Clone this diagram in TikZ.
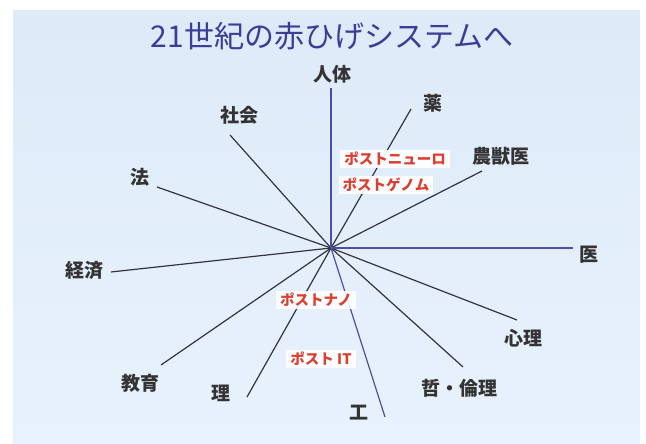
\documentclass[tikz,border=0pt]{standalone}
\usepackage{fontspec}
\setmainfont{Noto Sans CJK JP}
\usetikzlibrary{positioning}
\definecolor{panelblue}{RGB}{222,234,248}
\definecolor{panellight}{RGB}{232,242,253}
\definecolor{titleblue}{RGB}{58,62,150}
\definecolor{axisblue}{RGB}{76,80,165}
\definecolor{spokegray}{RGB}{50,52,60}
\definecolor{postred}{RGB}{220,62,48}
\tikzset{
  field/.style={font=\fontsize{19}{19}\selectfont\bfseries, text=black!80, inner sep=1pt},
  post/.style={font=\fontsize{14.5}{14.5}\selectfont\bfseries, text=postred, fill=white, fill opacity=0.9, text opacity=1, inner xsep=4pt, inner ysep=2.5pt},
  spoke/.style={spokegray, line width=1.2pt},
  axis/.style={axisblue, line width=1.2pt}
}

\begin{document}
\begin{tikzpicture}[x=1pt, y=-1pt]
    % Page and panel
    \useasboundingbox (0,0) rectangle (646,444);
    \fill[white] (0,0) rectangle (646,444);
    \shade[top color=panelblue, bottom color=panellight] (13,11) rectangle (640,444);

    % Title
    \node[titleblue, font=\fontsize{30}{30}\selectfont] (title) at (332,36) {21世紀の赤ひげシステムへ};

    % Hub and spoke ends
    \coordinate (hub) at (331,248);
    \coordinate (e-jintai) at (331,88);
    \coordinate (e-yaku) at (411,109);
    \coordinate (e-nou) at (482,171);
    \coordinate (e-i) at (573,248);
    \coordinate (e-shinri) at (517,320);
    \coordinate (e-tetsu) at (463,367);
    \coordinate (e-kou) at (385,417);
    \coordinate (e-ri) at (247,397);
    \coordinate (e-kyouiku) at (161,365);
    \coordinate (e-keizai) at (111,272);
    \coordinate (e-hou) at (157,187);
    \coordinate (e-shakai) at (230,135);

    % Spokes
    \foreach \e in {yaku, nou, shinri, tetsu, ri, kyouiku, keizai, hou, shakai}
        \draw[spoke] (hub) -- (e-\e);
    \foreach \e in {jintai, i, kou}
        \draw[axis] (hub) -- (e-\e);

    % Field labels
    \node[field] (jintai) at (332,74) {人体};
    \node[field] (yaku) at (433,103) {薬};
    \node[field] (nou) at (501,156) {農獣医};
    \node[field] (i) at (589,255) {医};
    \node[field] (shinri) at (523,338) {心理};
    \node[field] (tetsu) at (459,388) {哲・倫理};
    \node[field] (kou) at (359,413) {工};
    \node[field] (ri) at (221,393) {理};
    \node[field] (kyouiku) at (140,383) {教育};
    \node[field] (keizai) at (84,270) {経済};
    \node[field] (hou) at (140,177) {法};
    \node[field] (shakai) at (239,115) {社会};

    % Post- labels
    \node[post] (neuro) at (395,159) {ポストニューロ};
    \node[post] (genome) at (386,185) {ポストゲノム};
    \node[post] (nano) at (316,300) {ポストナノ};
    \node[post] (postit) at (321,359) {ポスト IT};
\end{tikzpicture}
\end{document}
